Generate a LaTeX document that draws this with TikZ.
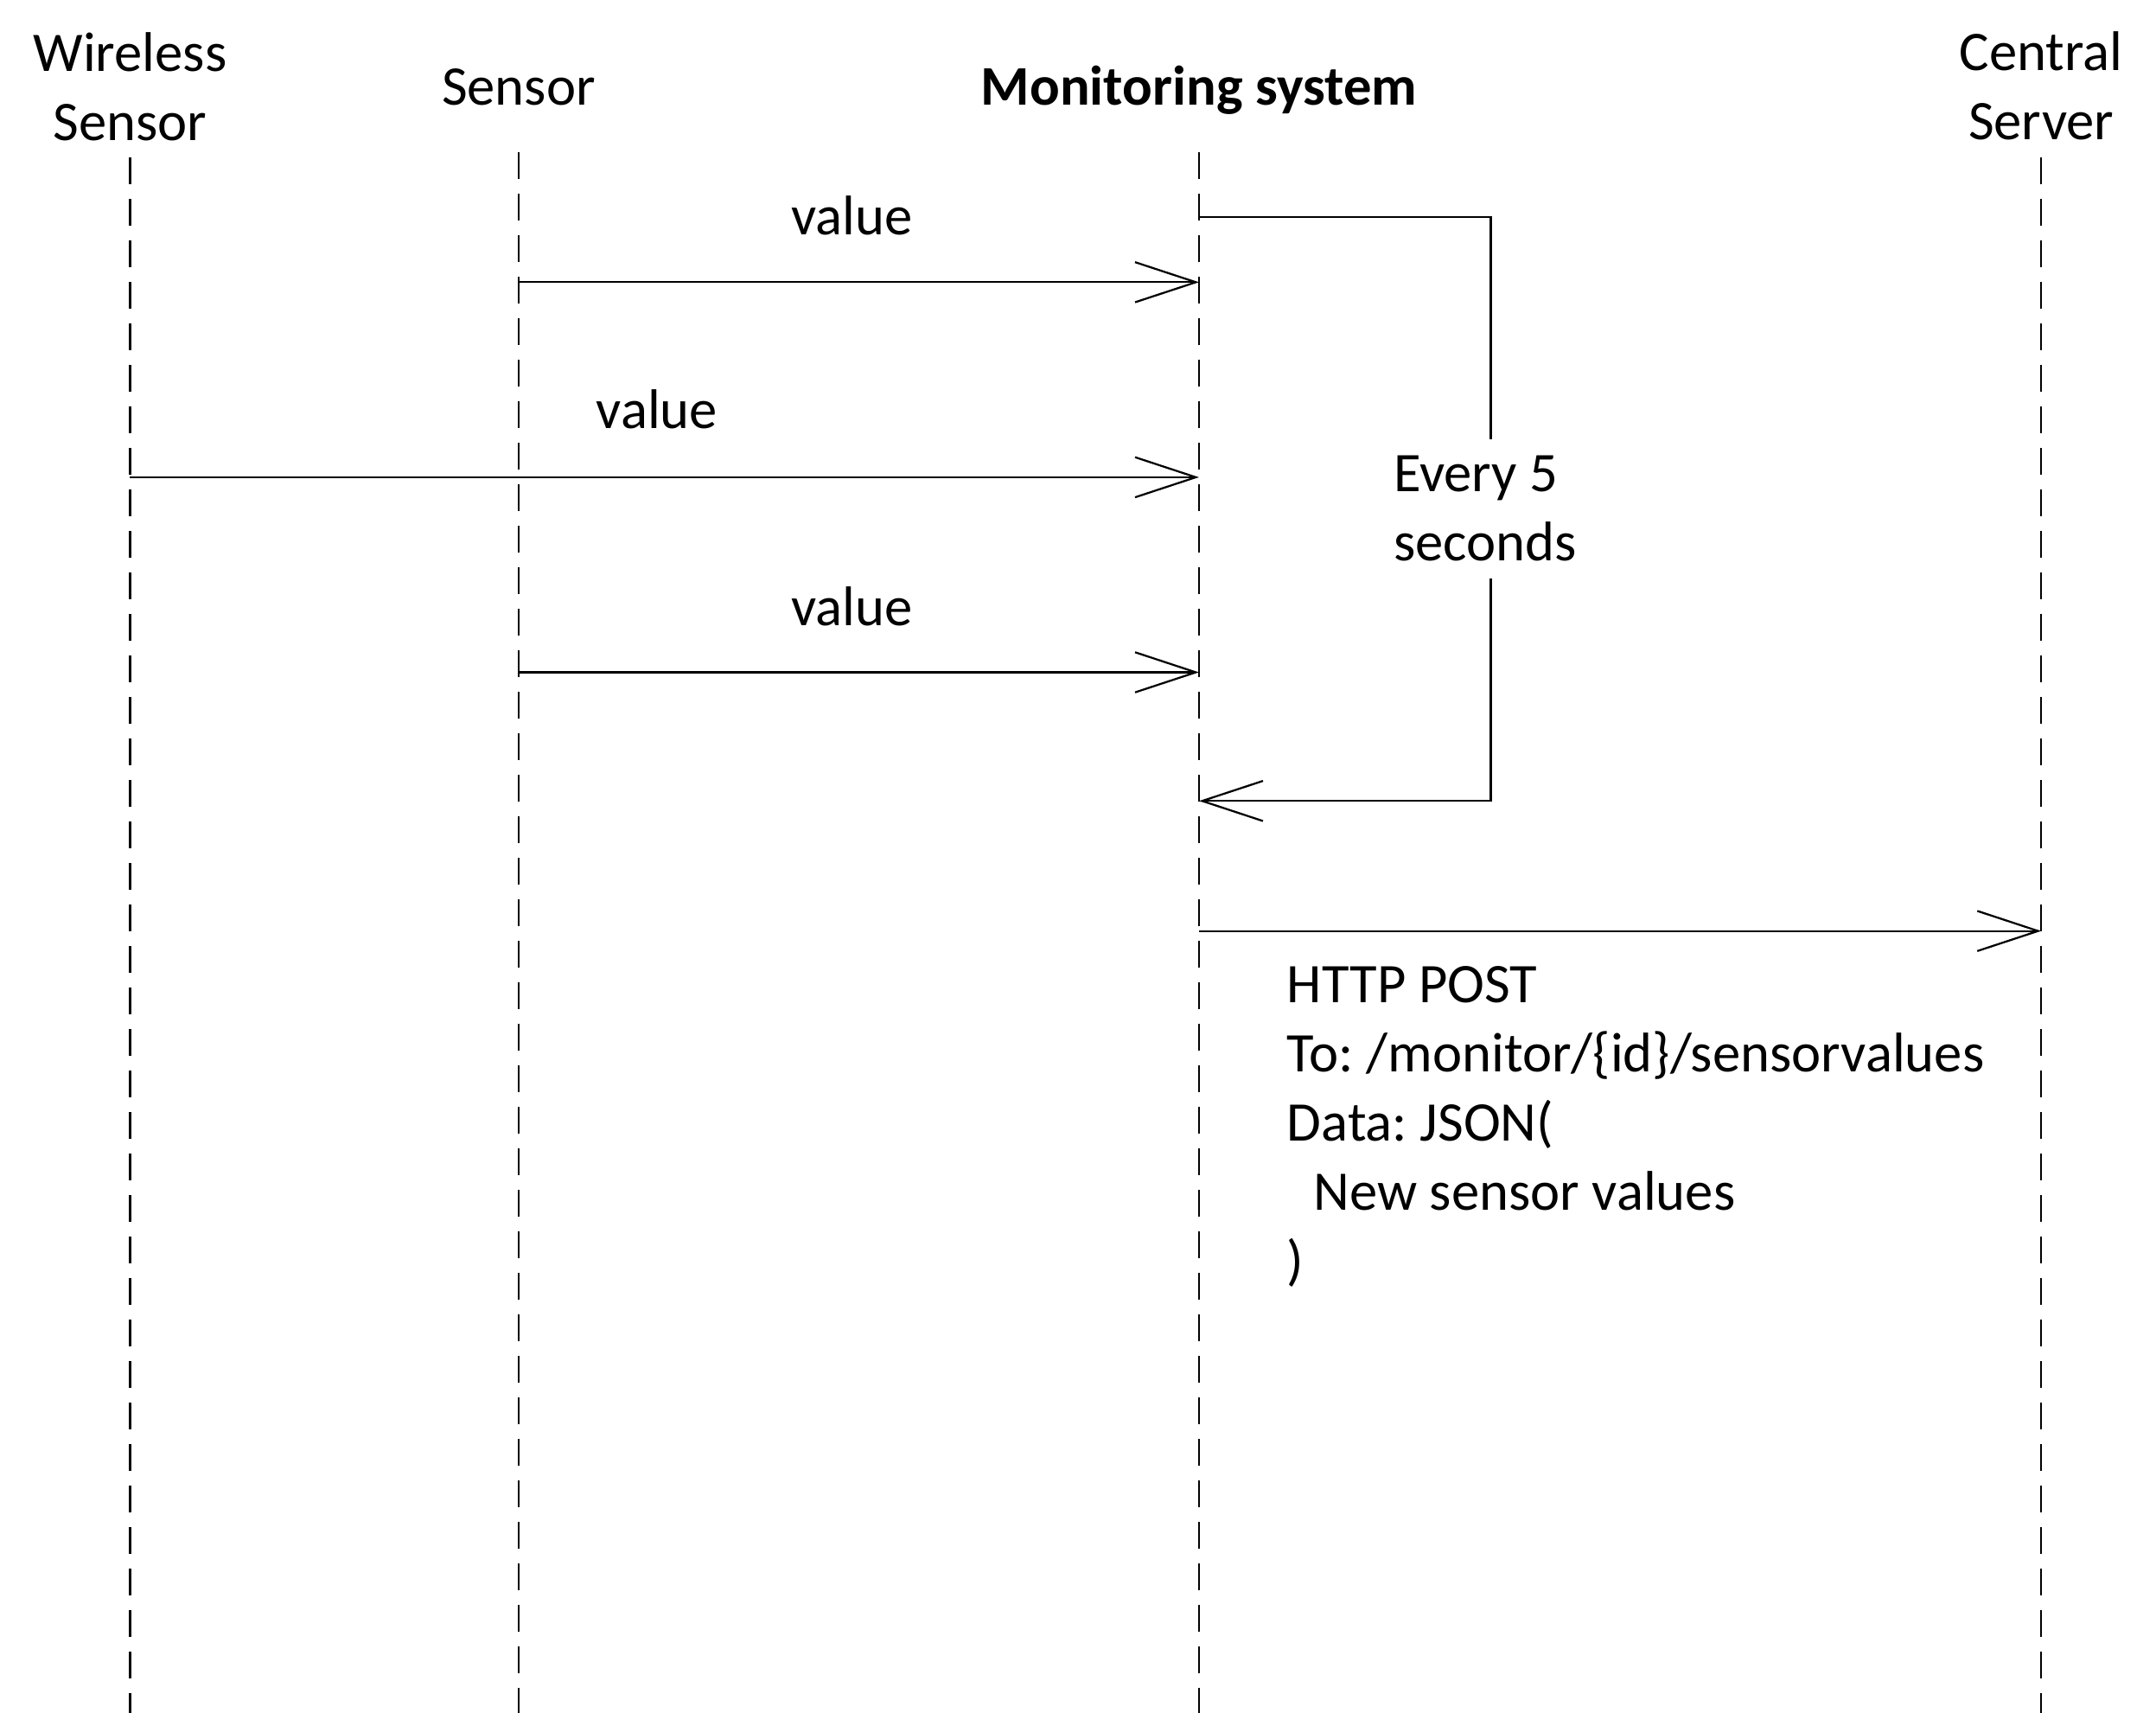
\documentclass[tikz,border=0pt]{standalone}
\usepackage{fontspec}
\setmainfont{Carlito}
\frenchspacing
\usetikzlibrary{arrows.meta,positioning,calc}
\tikzset{%
    >={Straight Barb[length=4.4mm,width=2.9mm]},
    % Specifications for style of lines and texts:
    lifeline/.style = {dash pattern=on 1.94mm off 1.06mm},
    msg/.style = {->},
    head/.style = {align=center, anchor=base, inner sep=0pt},
    txt/.style = {anchor=base, inner sep=0pt}
}
\begin{document}
\begin{tikzpicture}[font=\fontsize{11.5pt}{14.23pt}\selectfont]
    \useasboundingbox (0,0) rectangle (15.59,-12.38);
    \node[head] (WS) at (0.94,-1.017) {Wireless\\Sensor};
    \node[head] (S) at (3.75,-0.76) {Sensor};
    \node[head] (M) at (8.67,-0.76) {\bfseries Monitoring system};
    \node[head] (CS) at (14.76,-1.01) {Central\\Server};
    \foreach \n/\x/\t in {WS/0.94/1.14, S/3.75/1.10, M/8.67/1.10, CS/14.76/1.14}
        \draw[lifeline] (\x,-\t) coordinate (\n-top) -- (\x,-12.38) coordinate (\n-bot);
    % rows of the messages
    \coordinate (r0) at (0,-1.57);
    \coordinate (r1) at (0,-2.04);
    \coordinate (r2) at (0,-3.45);
    \coordinate (r3) at (0,-4.86);
    \coordinate (r4) at (0,-5.79);
    \coordinate (r5) at (0,-6.73);
    \coordinate (L) at (10.78,0);
    \draw[msg] (S-top |- r1) -- (M-top |- r1);
    \draw[msg] (WS-top |- r2) -- (M-top |- r2);
    \draw[msg] (S-top |- r3) -- (M-top |- r3);
    \node[txt] (V1) at (6.16,-1.70) {value};
    \node[txt] (V2) at (4.75,-3.10) {value};
    \node[txt] (V3) at (6.16,-4.52) {value};
    \draw[msg] (M-top |- r0) -| (L |- r4) -- (M-top |- r4);
    \node[anchor=base west, align=left, fill=white, inner xsep=0pt, inner ysep=3.5pt] (E5) at (10.07,-4.056) {Every 5\\seconds};
    \draw[msg] (M-top |- r5) -- (CS-top |- r5);
    \node[anchor=base west, align=left, inner sep=0pt] (P) at (9.30,-9.25) {HTTP POST\\To: /monitor/\{id\}/sensorvalues\\Data: JSON(\\\hspace*{0.19cm}New sensor values\\)};
\end{tikzpicture}
\end{document}
